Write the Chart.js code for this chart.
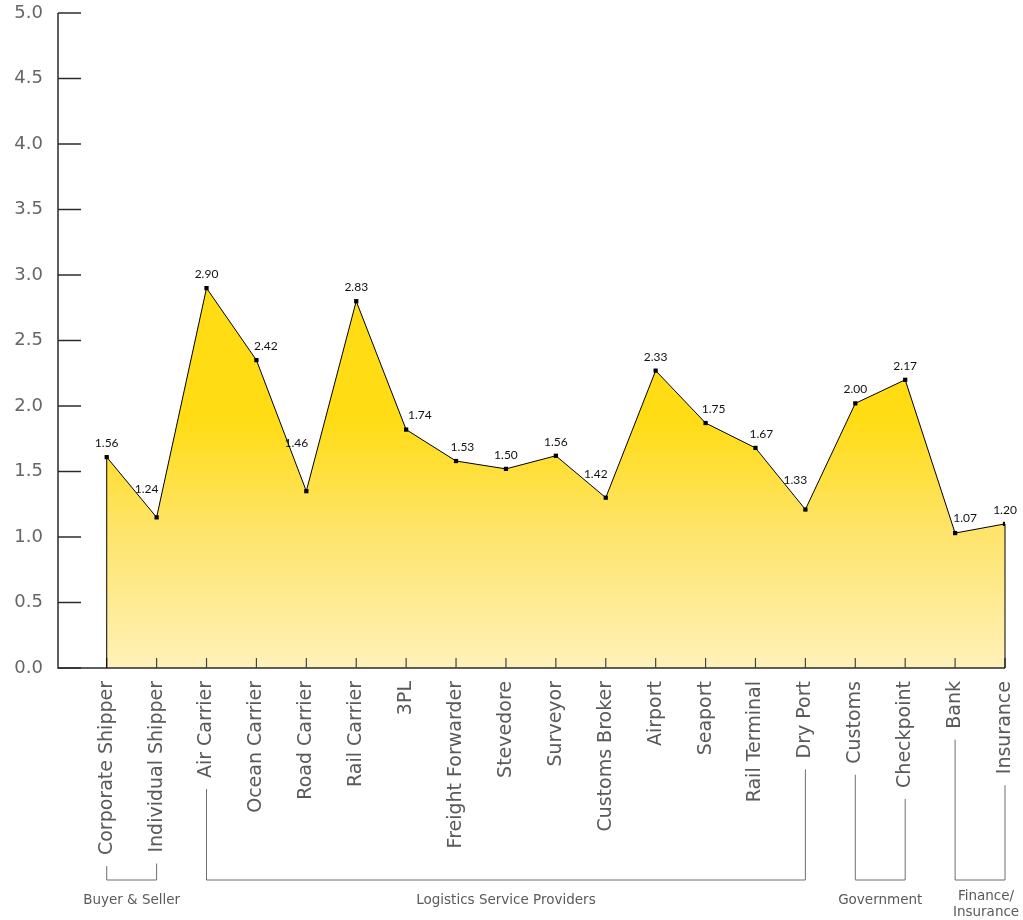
<!DOCTYPE html>
<html>
<head>
<meta charset="utf-8">
<script src="https://cdn.jsdelivr.net/npm/chart.js@4/dist/chart.umd.min.js"></script>
<style>
  html, body { margin: 0; padding: 0; background: #fff; }
  .contenedor { width: 1023px; height: 920px; position: relative; }
</style>
</head>
<body>
<div class="contenedor"><canvas id="grafica"></canvas></div>
<script>
// categorias del eje x
const categorias = ['Corporate Shipper', 'Individual Shipper', 'Air Carrier', 'Ocean Carrier', 'Road Carrier',
  'Rail Carrier', '3PL', 'Freight Forwarder', 'Stevedore', 'Surveyor', 'Customs Broker', 'Airport',
  'Seaport', 'Rail Terminal', 'Dry Port', 'Customs', 'Checkpoint', 'Bank', 'Insurance'];

const valores = [1.61, 1.15, 2.90, 2.35, 1.35, 2.80, 1.82, 1.58, 1.52, 1.62, 1.30, 2.27,
  1.87, 1.68, 1.21, 2.02, 2.20, 1.03, 1.10];

// etiquetas escritas sobre cada punto
const etiquetasValor = ['1.56', '1.24', '2.90', '2.42', '1.46', '2.83', '1.74', '1.53', '1.50', '1.56',
  '1.42', '2.33', '1.75', '1.67', '1.33', '2.00', '2.17', '1.07', '1.20'];

// ticks del eje y
const ticksY = [0, 0.5, 1.0, 1.5, 2.0, 2.5, 3.0, 3.5, 4.0, 4.5, 5.0];

// grupos (indice inicial y final de categoria)
const grupos = ['Buyer & Seller', 'Logistics Service Providers', 'Government', 'Finance/\nInsurance'];
const grupoInicio = [0, 2, 15, 17];
const grupoFin = [1, 14, 16, 18];

const fuente = '"DejaVu Sans", sans-serif';
const fuenteValores = 'Lato, "Open Sans", sans-serif';
const pesoTick = '400';
const tamTick = 19;
const paddingX = 13;

// ejes dibujados a mano: lineas y marcas hacia dentro
const pluginEjes = {
  id: 'ejes',
  afterDatasetsDraw(chart) {
    const { ctx, chartArea, scales } = chart;
    ctx.save();
    ctx.strokeStyle = '#2b2b2b';
    ctx.lineWidth = 1.5;
    ctx.beginPath();
    ctx.moveTo(chartArea.left, chartArea.top);
    ctx.lineTo(chartArea.left, chartArea.bottom);
    ctx.lineTo(chartArea.right, chartArea.bottom);
    ctx.stroke();
    // marcas del eje y
    scales.y.ticks.forEach(t => {
      const y = scales.y.getPixelForValue(t.value);
      ctx.beginPath();
      ctx.moveTo(chartArea.left, y);
      ctx.lineTo(chartArea.left + 23, y);
      ctx.stroke();
    });
    // marcas del eje x
    ctx.strokeStyle = '#444';
    ctx.lineWidth = 1.2;
    scales.x.ticks.forEach(t => {
      const x = scales.x.getPixelForValue(t.value);
      ctx.beginPath();
      ctx.moveTo(x, chartArea.bottom);
      ctx.lineTo(x, chartArea.bottom - 10);
      ctx.stroke();
    });
    // bordes verticales del area
    const meta = chart.getDatasetMeta(0);
    const p0 = meta.data[0], pN = meta.data[meta.data.length - 1];
    ctx.strokeStyle = '#000';
    ctx.lineWidth = 1;
    ctx.beginPath();
    ctx.moveTo(p0.x, p0.y); ctx.lineTo(p0.x, chartArea.bottom);
    ctx.moveTo(pN.x, pN.y); ctx.lineTo(pN.x, chartArea.bottom);
    ctx.stroke();
    ctx.restore();
  }
};

// etiquetas de valor sobre los puntos
const pluginEtiquetas = {
  id: 'etiquetas',
  afterDatasetsDraw(chart) {
    const { ctx } = chart;
    const meta = chart.getDatasetMeta(0);
    ctx.save();
    ctx.font = '12px ' + fuenteValores;
    ctx.fillStyle = '#111';
    ctx.textAlign = 'center';
    ctx.textBaseline = 'middle';
    meta.data.forEach((p, i) => {
      let dx = 0, dy = -14;
      const v = valores[i], izq = valores[i - 1], der = valores[i + 1];
      if (izq !== undefined && der !== undefined) {
        const dIzq = izq - v, dDer = der - v;
        if (dIzq > 0 && dDer > 0 && Math.max(dIzq, dDer) > 0.5) {
          // minimo local: la etiqueta se aparta de la pendiente mas fuerte
          const lado = dIzq < dDer ? -1 : 1;
          dx = lado * 10;
          dy = -12 - 36 * Math.min(Math.min(dIzq, dDer), 1);
        } else if (dIzq > 0 && dDer < 0) {
          // tramo descendente: se corre a la derecha
          dx = 4 + 10 * Math.min(dIzq, 1);
        }
      }
      ctx.fillText(etiquetasValor[i], p.x + dx, p.y + dy);
    });
    ctx.restore();
  }
};

// corchetes de grupos debajo de las etiquetas
const pluginGrupos = {
  id: 'grupos',
  afterDraw(chart) {
    const { ctx, chartArea, scales } = chart;
    const yBase = chartArea.bottom + 212;
    const fTick = pesoTick + ' ' + tamTick + 'px ' + fuente;
    ctx.save();
    ctx.strokeStyle = '#6e6e6e';
    ctx.lineWidth = 1;
    grupos.forEach((g, k) => {
      const a = grupoInicio[k], b = grupoFin[k];
      const xa = scales.x.getPixelForValue(a), xb = scales.x.getPixelForValue(b);
      ctx.font = fTick;
      const ya = chartArea.bottom + paddingX + ctx.measureText(categorias[a]).width + 11;
      const yb = chartArea.bottom + paddingX + ctx.measureText(categorias[b]).width + 11;
      ctx.beginPath();
      ctx.moveTo(xa, ya); ctx.lineTo(xa, yBase); ctx.lineTo(xb, yBase); ctx.lineTo(xb, yb);
      ctx.stroke();
      ctx.font = pesoTick + ' 13.5px ' + fuente;
      ctx.fillStyle = '#5a5a5a';
      ctx.textAlign = 'center';
      ctx.textBaseline = 'middle';
      const lineas = g.split('\n');
      const xc = (xa + xb) / 2;
      if (lineas.length === 1) {
        ctx.fillText(lineas[0], xc, yBase + 20);
      } else {
        lineas.forEach((l, j) => ctx.fillText(l, xc + 6, yBase + 16 + j * 16));
      }
    });
    ctx.restore();
  }
};

const ctx = document.getElementById('grafica').getContext('2d');

const grafica = new Chart(ctx, {
  type: 'line',
  data: {
    datasets: [{
      data: valores.map((v, i) => ({ x: i, y: v })),
      borderColor: '#000',
      borderWidth: 1,
      tension: 0,
      pointStyle: 'rect',
      pointRadius: 3,
      pointBackgroundColor: '#000',
      pointBorderWidth: 0,
      fill: 'origin',
      backgroundColor: function (context) {
        const { chart } = context;
        const { chartArea, scales } = chart;
        if (!chartArea) return '#FFDC14';
        const g = chart.ctx.createLinearGradient(0, scales.y.getPixelForValue(1.9), 0, scales.y.getPixelForValue(0));
        g.addColorStop(0, '#FFDC14');
        g.addColorStop(0.45, '#FEE46A');
        g.addColorStop(1, '#FFF1B9');
        return g;
      }
    }]
  },
  options: {
    responsive: true,
    maintainAspectRatio: false,
    animation: false,
    layout: { padding: { top: 13, right: 18, left: 0, bottom: 0 } },
    plugins: {
      legend: { display: false },
      tooltip: { enabled: false }
    },
    scales: {
      x: {
        type: 'linear',
        min: -0.976,
        max: 18,
        afterBuildTicks: scale => { scale.ticks = categorias.map((c, i) => ({ value: i })); },
        afterFit: scale => {
          scale.height = 252;
          scale.paddingLeft = 0;
          scale.paddingRight = 0;
        },
        grid: { display: false, drawTicks: false },
        border: { display: false },
        ticks: {
          autoSkip: false,
          minRotation: 90,
          maxRotation: 90,
          padding: paddingX,
          color: '#5a5a5a',
          font: { family: fuente, size: tamTick, weight: pesoTick },
          callback: v => categorias[v]
        }
      },
      y: {
        min: 0,
        max: 5,
        afterBuildTicks: scale => { scale.ticks = ticksY.map(v => ({ value: v })); },
        afterFit: scale => {
          scale.width = 58;
          scale.paddingTop = 0;
          scale.paddingBottom = 0;
        },
        grid: { display: false, drawTicks: false },
        border: { display: false },
        ticks: {
          padding: 15,
          color: '#666',
          font: { family: fuente, size: 18, weight: pesoTick },
          callback: v => v.toFixed(1)
        }
      }
    }
  },
  plugins: [pluginEjes, pluginEtiquetas, pluginGrupos]
});
</script>
</body>
</html>
